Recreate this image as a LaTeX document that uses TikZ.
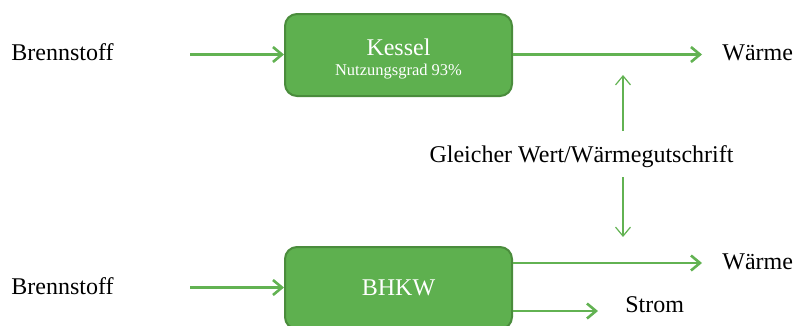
\documentclass[tikz,border=0pt]{standalone}
\usepackage{fontspec}
\setmainfont{Liberation Serif}
\usetikzlibrary{arrows.meta}

\definecolor{boxgreen}{RGB}{94,176,79}
\definecolor{boxedge}{RGB}{74,140,60}
\definecolor{arrowgreen}{RGB}{98,178,82}

\tikzset{every picture/.style={line width=0.75pt}}
\tikzset{
  unitbox/.style={draw=boxedge, line width=2pt, fill=boxgreen, rounded corners=12pt,
    minimum width=227pt, minimum height=82pt, text=white, align=center, inner sep=0pt},
  flow/.style={draw=arrowgreen, line width=2.6pt, -{Straight Barb[length=9pt,width=15pt,line width=2.6pt]}},
  thinflow/.style={draw=arrowgreen, line width=1.2pt, -{Straight Barb[length=9pt,width=15pt,line width=1.2pt]}},
  label/.style={inner sep=0pt, font=\fontsize{24}{28}\selectfont}
}

\begin{document}
\begin{tikzpicture}[x=1pt,y=1pt,yscale=-1]
	\useasboundingbox (0,0) rectangle (795,325);
	
	%Shape: Rounded Rect [id:kessel]
	\node (kessel) [unitbox] at (398.5,55) {};
	\node (kesselName) [inner sep=0pt, text=white, font=\fontsize{24}{26}\selectfont] at (398.5,47) {Kessel};
	\node (kesselEta) [inner sep=0pt, text=white, font=\fontsize{16.5}{18}\selectfont] at (398.5,72) {Nutzungsgrad 93\%};
	%Shape: Rounded Rect [id:bhkw]
	\node (bhkw) [unitbox] at (398.5,288) {\fontsize{24}{26}\selectfont BHKW};
	
	% Text Node
	\node (brennA) [label, anchor=west] at (11,52) {Brennstoff};
	% Text Node
	\node (brennB) [label, anchor=west] at (11,286) {Brennstoff};
	% Text Node
	\node (waermeA) [label, anchor=west] at (722,53) {Wärme};
	% Text Node
	\node (waermeB) [label, anchor=west] at (722,262) {Wärme};
	% Text Node
	\node (strom) [label, anchor=west] at (625,305) {Strom};
	% Text Node
	\node (gleich) [label] at (581.5,157) {Gleicher Wert/Wärmegutschrift};
	
	\coordinate (inA) at (190,54.5);
	\coordinate (inB) at (190,287.5);
	\coordinate (outA) at (702,54.5);
	\coordinate (outB) at (702,263);
	\coordinate (outS) at (598,311);
	\coordinate (upS) at (623,131);
	\coordinate (upE) at (623,75);
	\coordinate (dnS) at (623,177);
	\coordinate (dnE) at (623,237);
	
	%Straight Lines [id:in]
	\draw [flow] (inA) -- (kessel.west |- inA);
	\draw [flow] (inB) -- (bhkw.west |- inB);
	%Straight Lines [id:out]
	\draw [flow] (kessel.east |- outA) -- (outA);
	\draw [flow] (bhkw.east |- outB) -- (outB);
	\draw [flow] (bhkw.east |- outS) -- (outS);
	%Straight Lines [id:credit]
	\draw [thinflow] (upS) -- (upE);
	\draw [thinflow] (dnS) -- (dnE);
	
\end{tikzpicture}
\end{document}
